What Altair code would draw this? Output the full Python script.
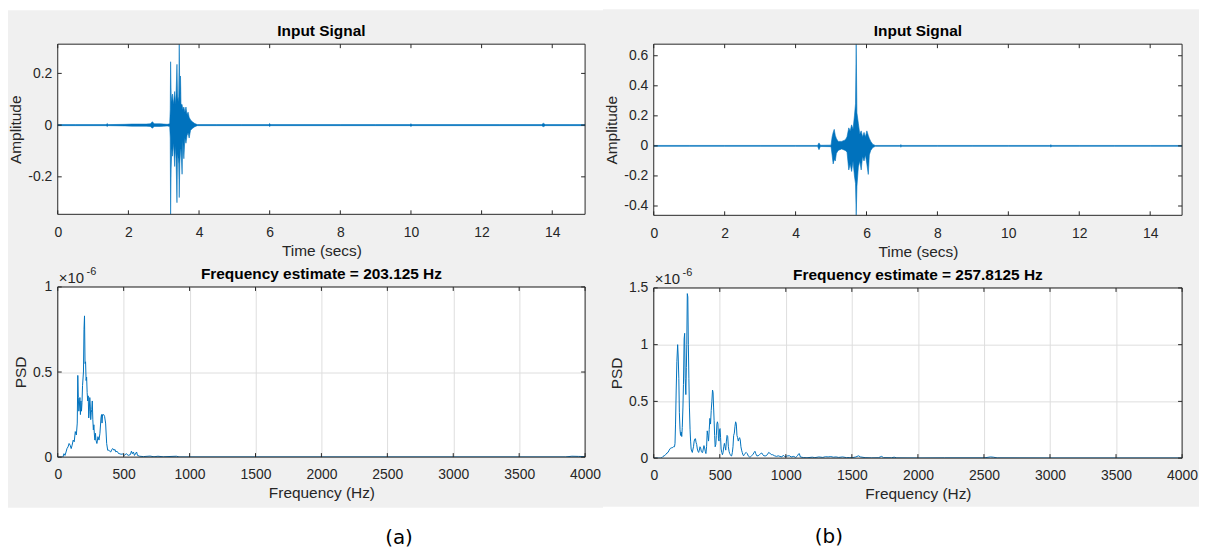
import altair as alt
import pandas as pd

BLUE = "#0072BD"
AXC = "#262626"
BG = "#f0f0f0"
GRID = "#dedede"
FONT = "Liberation Sans"

# ---------------- data ----------------
time_ticks = [0, 2, 4, 6, 8, 10, 12, 14]
freq_ticks = [0, 500, 1000, 1500, 2000, 2500, 3000, 3500, 4000]

# (a) input signal: envelope (upper / lower) of the waveform
a_t = [0.0, 0.5, 1.0, 1.37, 1.4, 1.43, 1.9, 2.1, 2.3, 2.5,
       2.62, 2.68, 2.73, 2.9, 3.0, 3.1, 3.17, 3.185, 3.195, 3.21,
       3.23, 3.25, 3.27, 3.29, 3.31, 3.33, 3.35, 3.375, 3.39, 3.41,
       3.425, 3.44, 3.455, 3.475, 3.49, 3.52, 3.54, 3.57, 3.60, 3.63,
       3.66, 3.69, 3.72, 3.76, 3.82, 3.88, 3.95, 4.5, 5.2, 5.97,
       6.0, 6.03, 7.0, 8.0, 9.0, 9.97, 10.0, 10.03, 11.5, 12.5,
       13.7, 13.75, 13.8, 14.5, 14.93]
a_hi = [.002, .002, .002, .002, .006, .002, .003, .004, .004, .004,
        .005, .013, .005, .005, .004, .003, .005, .06, .245, .12,
        .09, .12, .08, .10, .13, .08, .12, .235, .12, .09,
        .11, .313, .12, .19, .08, .08, .06, .07, .05, .07,
        .04, .05, .03, .02, .012, .006, .002, .002, .002, .002,
        .006, .002, .002, .002, .002, .002, .005, .002, .002, .002,
        .002, .007, .002, .002, .002]
a_lo = [-.002, -.002, -.002, -.002, -.005, -.002, -.003, -.004, -.004, -.004,
        -.005, -.012, -.005, -.005, -.004, -.003, -.005, -.05, -.345, -.17,
        -.09, -.12, -.07, -.10, -.16, -.08, -.13, -.30, -.11, -.13,
        -.15, -.28, -.15, -.10, -.09, -.19, -.06, -.13, -.05, -.07,
        -.04, -.03, -.05, -.02, -.012, -.006, -.002, -.002, -.002, -.002,
        -.005, -.002, -.002, -.002, -.002, -.002, -.005, -.002, -.002, -.002,
        -.002, -.006, -.002, -.002, -.002]
a_ydom = [-0.345, 0.313]
a_yticks = [-0.2, 0, 0.2]
a_tmax = 14.93

# (b) input signal envelope
b_t = [0.0, 1.0, 2.0, 3.0, 4.0, 4.62, 4.66, 4.70, 5.0, 5.03,
       5.06, 5.09, 5.12, 5.15, 5.2, 5.3, 5.4, 5.45, 5.5, 5.54,
       5.58, 5.62, 5.66, 5.69, 5.71, 5.73, 5.77, 5.81, 5.85, 5.89,
       5.93, 5.97, 6.01, 6.05, 6.08, 6.12, 6.18, 6.25, 6.94, 6.97,
       7.0, 8.0, 9.0, 10.0, 11.17, 11.2, 11.23, 12.0, 13.0, 14.0,
       14.9]
b_hi = [.003, .003, .003, .003, .003, .003, .02, .004, .005, .06,
        .09, .11, .07, .05, .03, .03, .04, .06, .12, .10,
        .14, .11, .20, .28, .677, .22, .15, .08, .10, .06,
        .09, .06, .10, .07, .05, .03, .01, .003, .003, .008,
        .003, .003, .003, .003, .003, .007, .003, .003, .003, .003,
        .003]
b_lo = [-.003, -.003, -.003, -.003, -.003, -.003, -.025, -.004, -.005, -.06,
        -.12, -.09, -.10, -.05, -.03, -.02, -.03, -.04, -.16, -.12,
        -.17, -.10, -.20, -.25, -.462, -.27, -.14, -.10, -.16, -.07,
        -.10, -.06, -.12, -.19, -.06, -.03, -.01, -.003, -.003, -.008,
        -.003, -.003, -.003, -.003, -.003, -.007, -.003, -.003, -.003, -.003,
        -.003]
b_ydom = [-0.462, 0.677]
b_yticks = [-0.4, -0.2, 0, 0.2, 0.4, 0.6]
b_tmax = 14.9

# (a) PSD (units of 1e-6)
pa_f = [0, 20, 39, 47, 55, 63, 70, 78, 86, 94,
        102, 109, 117, 125, 133, 141, 148, 152, 156, 160,
        164, 168, 172, 176, 180, 184, 188, 195, 199, 203,
        207, 211, 215, 219, 223, 227, 231, 235, 239, 243,
        247, 250, 254, 258, 262, 266, 270, 274, 278, 282,
        286, 290, 297, 305, 313, 320, 328, 332, 336, 340,
        348, 355, 363, 371, 379, 387, 395, 402, 410, 418,
        426, 434, 441, 449, 457, 465, 473, 480, 488, 496,
        504, 520, 535, 551, 559, 566, 574, 582, 598, 605,
        621, 650, 700, 730, 760, 800, 900, 920, 1000, 2000,
        3000, 3850, 3900, 3950, 4000]
pa_v = [0, 0, 0, 0.02, 0.01, 0.03, 0.05, 0.06, 0.08, 0.07,
        0.05, 0.07, 0.1, 0.09, 0.15, 0.13, 0.2, 0.48, 0.35, 0.27,
        0.3, 0.35, 0.25, 0.33, 0.27, 0.32, 0.42, 0.5, 0.75, 0.83,
        0.55, 0.56, 0.45, 0.47, 0.38, 0.33, 0.36, 0.23, 0.27, 0.35,
        0.3, 0.22, 0.26, 0.28, 0.33, 0.22, 0.16, 0.19, 0.13, 0.1,
        0.14, 0.1, 0.08, 0.12, 0.1, 0.14, 0.23, 0.25, 0.2, 0.25,
        0.25, 0.24, 0.2, 0.08, 0.04, 0.04, 0.035, 0.03, 0.045, 0.05,
        0.04, 0.045, 0.03, 0.035, 0.025, 0.02, 0.02, 0.015, 0.02, 0.015,
        0.01, 0.02, 0.01, 0.015, 0.035, 0.02, 0.03, 0.01, 0.03, 0.01,
        0.005, 0.003, 0.006, 0.002, 0.005, 0.002, 0.005, 0.001, 0.001, 0.001,
        0.001, 0.001, 0.005, 0.004, 0.003]
pa_ydom = [0, 1]
pa_yticks = [0, 0.5, 1]

# (b) PSD (units of 1e-6)
pb_f = [0, 30, 55, 63, 70, 79, 90, 100, 108, 117,
        125, 132, 140, 148, 152, 157, 161, 165, 170, 175,
        181, 185, 190, 194, 199, 203, 208, 212, 216, 221,
        225, 230, 234, 238, 243, 247, 250, 254, 258, 262,
        266, 270, 275, 279, 283, 288, 292, 297, 301, 306,
        312, 316, 320, 325, 330, 335, 340, 345, 350, 355,
        360, 365, 370, 375, 380, 385, 390, 395, 400, 405,
        410, 415, 420, 425, 430, 435, 440, 445, 449, 453,
        457, 461, 465, 470, 474, 478, 482, 486, 490, 494,
        498, 502, 506, 510, 515, 520, 525, 530, 535, 540,
        545, 550, 555, 560, 565, 570, 575, 580, 585, 590,
        595, 600, 605, 610, 615, 620, 625, 630, 635, 640,
        645, 650, 655, 660, 665, 670, 675, 680, 685, 690,
        700, 708, 715, 725, 731, 740, 750, 760, 766, 772,
        780, 790, 800, 810, 818, 825, 835, 848, 860, 870,
        878, 890, 900, 915, 930, 942, 955, 970, 980, 990,
        1000, 1015, 1029, 1040, 1060, 1075, 1088, 1095, 1102, 1110,
        1132, 1160, 1200, 1220, 1250, 1280, 1300, 1320, 1340, 1360,
        1380, 1400, 1430, 1460, 1480, 1500, 1530, 1550, 1565, 1600,
        1650, 1700, 1725, 1740, 1800, 1820, 1840, 2000, 2200, 2500,
        2550, 2570, 2600, 3000, 3500, 4000]
pb_v = [0, 0, 0, 0.005, 0.015, 0.02, 0.03, 0.045, 0.05, 0.07,
        0.085, 0.09, 0.09, 0.1, 0.1, 0.1, 0.13, 0.3, 0.6, 0.85,
        1.0, 0.9, 0.7, 0.4, 0.25, 0.2, 0.23, 0.19, 0.27, 0.45,
        0.65, 1.05, 1.1, 0.7, 0.56, 0.8, 1.0, 1.45, 1.42, 1.0,
        0.7, 0.45, 0.25, 0.15, 0.08, 0.06, 0.05, 0.08, 0.1, 0.15,
        0.17, 0.17, 0.14, 0.12, 0.08, 0.06, 0.05, 0.07, 0.1, 0.09,
        0.06, 0.05, 0.05, 0.08, 0.11, 0.09, 0.06, 0.04, 0.1, 0.24,
        0.2, 0.15, 0.25, 0.35, 0.3, 0.42, 0.5, 0.6, 0.58, 0.45,
        0.33, 0.2, 0.1, 0.12, 0.2, 0.3, 0.32, 0.3, 0.17, 0.15,
        0.25, 0.26, 0.18, 0.08, 0.05, 0.03, 0.05, 0.1, 0.13, 0.1,
        0.07, 0.15, 0.2, 0.19, 0.1, 0.06, 0.04, 0.03, 0.02, 0.02,
        0.05, 0.1, 0.2, 0.22, 0.28, 0.32, 0.3, 0.2, 0.18, 0.15,
        0.17, 0.18, 0.16, 0.1, 0.07, 0.05, 0.03, 0.02, 0.03, 0.04,
        0.05, 0.04, 0.02, 0.01, 0.01, 0.02, 0.03, 0.05, 0.06, 0.04,
        0.02, 0.02, 0.03, 0.04, 0.045, 0.03, 0.02, 0.02, 0.03, 0.05,
        0.045, 0.03, 0.03, 0.02, 0.015, 0.02, 0.015, 0.01, 0.025, 0.015,
        0.015, 0.02, 0.02, 0.01, 0.015, 0.005, 0.02, 0.035, 0.04, 0.01,
        0.005, 0.003, 0.008, 0.004, 0.01, 0.006, 0.012, 0.01, 0.013, 0.008,
        0.01, 0.006, 0.01, 0.004, 0.005, 0.003, 0.01, 0.02, 0.01, 0.004,
        0.002, 0.003, 0.015, 0.004, 0.003, 0.008, 0.002, 0.001, 0.002, 0.002,
        0.01, 0.008, 0.002, 0.001, 0.001, 0.001]
pb_ydom = [0, 1.5]
pb_yticks = [0, 0.5, 1, 1.5]

top_title = "Input Signal"
psd_titles = ["Frequency estimate = 203.125 Hz", "Frequency estimate = 257.8125 Hz"]
exp_base = "\u00d710"
exp_power = "-6"
panel_labels = ["(a)", "(b)"]

NEG_EXPR = "(datum.value < 0 ? '-' : '') + format(abs(datum.value), '.1~f')"


def ax(**kw):
    base = dict(labelFont=FONT, labelFontSize=14, labelColor=AXC,
                titleFont=FONT, titleFontSize=15.5, titleColor=AXC,
                titleFontWeight="normal", ticks=False, tickSize=0, domain=False,
                labelFlush=False, labelOverlap=False)
    base.update(kw)
    return alt.Axis(**base)


def one_row(**kw):
    return pd.DataFrame({k: [v] for k, v in kw.items()})


def tick_layers(xs, ys, xax, yax, xticks, yticks, w, h, L=4):
    xt = pd.DataFrame({"v": xticks})
    yt = pd.DataFrame({"v": yticks})
    X = alt.X("v:Q", scale=xs, axis=xax)
    Y = alt.Y("v:Q", scale=ys, axis=yax)
    bx = alt.Chart(xt).mark_rule(color=AXC, strokeWidth=1)
    by = alt.Chart(yt).mark_rule(color=AXC, strokeWidth=1)
    return [
        bx.encode(x=X, y=alt.value(h), y2=alt.value(h - L)),
        bx.encode(x=X, y=alt.value(0), y2=alt.value(L)),
        by.encode(y=Y, x=alt.value(0), x2=alt.value(L)),
        by.encode(y=Y, x=alt.value(w - L), x2=alt.value(w)),
    ]


def rect(color, x, x2, y, y2, **kw):
    return alt.Chart(one_row(k=0)).mark_rect(color=color, **kw).encode(
        x=alt.value(x), x2=alt.value(x2), y=alt.value(y), y2=alt.value(y2))


def box(w, h):
    return alt.Chart(one_row(k=0)).mark_rect(
        fillOpacity=0, stroke=AXC, strokeWidth=1
    ).encode(x=alt.value(0), x2=alt.value(w), y=alt.value(0), y2=alt.value(h))


def title_layer(text, w):
    return alt.Chart(one_row(ttl=text)).mark_text(
        align="center", baseline="alphabetic", font=FONT, fontSize=15.5,
        fontWeight="bold", color="#000000"
    ).encode(text="ttl:N", x=alt.value(w / 2), y=alt.value(-8))


def signal_panel(t, hi, lo, ydom, yticks, tmax, w, h, gx, gx2, gy, gy2, tx):
    df = pd.DataFrame({"t": t, "hi": hi, "lo": lo})
    xs = alt.Scale(domain=[0, tmax], nice=False, zero=False)
    ys = alt.Scale(domain=ydom, nice=False, zero=False)
    xax = ax(values=time_ticks, format="d", title="Time (secs)", zindex=1,
             labelPadding=11, titleY=36, titleBaseline="middle", grid=False)
    yax = ax(values=yticks, labelExpr=NEG_EXPR, title="Amplitude", zindex=1,
             labelPadding=6, titleX=tx, titleY=h / 2, titleBaseline="middle", grid=False)
    area = alt.Chart(df).mark_area(
        color=BLUE, stroke=BLUE, strokeWidth=0.6, clip=True, opacity=1
    ).encode(
        x=alt.X("t:Q", scale=xs, axis=xax),
        y=alt.Y("hi:Q", scale=ys, axis=yax),
        y2="lo:Q",
    )
    # gray figure background (behind both panels of the column) + white plot area
    layers = ([rect(BG, gx, gx2, gy, gy2), rect("white", 0, w, 0, h), area]
              + tick_layers(xs, ys, xax, yax, time_ticks, yticks, w, h)
              + [box(w, h), title_layer(top_title, w)])
    return alt.layer(*layers).properties(width=w, height=h)


def psd_panel(f, v, ydom, yticks, w, h, title, lab, lx, ly):
    df = pd.DataFrame({"f": f, "v": v})
    xs = alt.Scale(domain=[0, 4000], nice=False, zero=False)
    ys = alt.Scale(domain=ydom, nice=False, zero=False)
    xax = ax(values=freq_ticks, format="d", title="Frequency (Hz)",
             labelPadding=11, titleY=36, titleBaseline="middle",
             grid=True, gridColor=GRID, gridWidth=1)
    yax = ax(values=yticks, format=".1~f", title="PSD",
             labelPadding=6, titleX=-37, titleY=h / 2, titleBaseline="middle",
             grid=True, gridColor=GRID, gridWidth=1)
    line = alt.Chart(df).mark_line(color=BLUE, strokeWidth=1, clip=True).encode(
        x=alt.X("f:Q", scale=xs, axis=xax),
        y=alt.Y("v:Q", scale=ys, axis=yax),
    )
    one = one_row(lab=lab, e1=exp_base, e2=exp_power)
    e1 = alt.Chart(one).mark_text(align="left", baseline="alphabetic", font=FONT,
                                  fontSize=15, color=AXC).encode(
        text="e1:N", x=alt.value(1), y=alt.value(-4))
    e2 = alt.Chart(one).mark_text(align="left", baseline="alphabetic", font=FONT,
                                  fontSize=11, color=AXC).encode(
        text="e2:N", x=alt.value(29), y=alt.value(-12))
    label = alt.Chart(one).mark_text(align="center", baseline="middle", font="DejaVu Sans",
                                     fontSize=20, color="#000000").encode(
        text="lab:N", x=alt.value(lx), y=alt.value(ly))
    layers = ([line] + tick_layers(xs, ys, xax, yax, freq_ticks, yticks, w, h)
              + [box(w, h), e1, e2, title_layer(title, w), label])
    return alt.layer(*layers).properties(width=w, height=h)


WA, WB = 530, 531
topA = signal_panel(a_t, a_hi, a_lo, a_ydom, a_yticks, a_tmax, WA, 171,
                    -50, 548, -34, 466, -42)
botA = psd_panel(pa_f, pa_v, pa_ydom, pa_yticks, WA, 171, psd_titles[0],
                 panel_labels[0], 343, 171 + 81)
topB = signal_panel(b_t, b_hi, b_lo, b_ydom, b_yticks, b_tmax, WB, 172,
                    -51, 548, -35, 465, -42)
botB = psd_panel(pb_f, pb_v, pb_ydom, pb_yticks, WB, 171, psd_titles[1],
                 panel_labels[1], 176, 171 + 79)

colA = alt.vconcat(topA, botA, spacing=73, bounds="flush")
colB = alt.vconcat(topB, botB, spacing=73, bounds="flush")

chart = alt.hconcat(colA, colB, spacing=0).properties(
    padding=0, background="white"
).configure_view(fill="white", strokeWidth=0)

chart.save("out.html", embed_options={"renderer": "svg", "actions": False})
